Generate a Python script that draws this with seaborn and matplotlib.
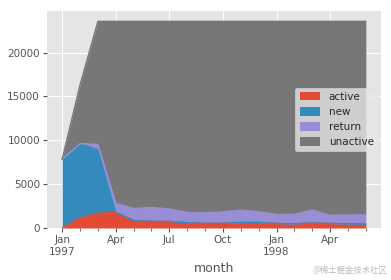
import matplotlib
matplotlib.use("Agg")
import matplotlib.pyplot as plt
import seaborn as sns
import numpy as np
import pandas as pd

months = ["1997-01", "1997-02", "1997-03", "1997-04", "1997-05", "1997-06",
          "1997-07", "1997-08", "1997-09", "1997-10", "1997-11", "1997-12",
          "1998-01", "1998-02", "1998-03", "1998-04", "1998-05", "1998-06"]
active = [0, 1157, 1681, 1773, 852, 747, 746, 604, 528, 532, 624, 632,
          512, 472, 571, 518, 459, 446]
new = [7846, 8476, 7248, 0, 0, 0, 0, 0, 0, 0, 0, 0, 0, 0, 0, 0, 0, 0]
ret = [0, 0, 595, 1049, 1362, 1592, 1434, 1168, 1211, 1307, 1404, 1232,
       1025, 1079, 1489, 919, 1029, 1060]
unactive = [0, 6689, 14046, 20748, 21356, 21231, 21390, 21798, 21831, 21731,
            21542, 21706, 22033, 22019, 21510, 22133, 22082, 22064]
series_names = ["active", "new", "return", "unactive"]
tick_labels = ["Jan\n1997", "Apr", "Jul", "Oct", "Jan\n1998", "Apr"]

colors = ["#E24A33", "#348ABD", "#988ED5", "#777777"]

sns.set_theme(style="darkgrid", rc={
    "axes.facecolor": "#E5E5E5",
    "grid.color": "white",
    "axes.edgecolor": "white",
    "xtick.color": "#555555",
    "ytick.color": "#555555",
    "axes.labelcolor": "#555555",
    "xtick.bottom": True,
    "ytick.left": True,
})
plt.rcParams["font.family"] = ["DejaVu Sans", "Noto Sans CJK SC"]

df = pd.DataFrame({"month": months, "active": active, "new": new,
                   "return": ret, "unactive": unactive})
x = np.arange(len(months))

fig = plt.figure(figsize=(3.91, 2.80), dpi=100)
ax = fig.add_axes([47/391, 1-228/280, (381-47)/391, (228-11)/280])

base = np.zeros(len(months))
for name, c in zip(series_names, colors):
    top = base + df[name].values
    ax.fill_between(x, base, top, color=c, linewidth=0, label=name)
    sns.lineplot(x=x, y=top, ax=ax, color=c, linewidth=1.0, legend=False)
    base = top

ax.set_ylim(0, 23570 * 1.05)
ax.set_xlim(-0.05 * 17, 17 * 1.05)
ax.set_xticks(np.arange(0, 18, 3))
ax.set_xticklabels(tick_labels)
ax.set_xticks(np.arange(18), minor=True)
ax.set_yticks([0, 5000, 10000, 15000, 20000])
ax.grid(True, which="major", color="white", linewidth=0.8)
ax.grid(False, which="minor")
ax.tick_params(axis="both", which="major", labelsize=7.5, length=3, width=0.8,
               color="#555555", pad=2)
ax.tick_params(axis="x", which="minor", length=2, width=0.6, color="#555555")
for s in ax.spines.values():
    s.set_visible(False)
ax.set_xlabel("month", fontsize=9, labelpad=4)
ax.set_ylabel("")

leg = ax.legend(loc="center right", fontsize=7.5, frameon=True,
                facecolor="#E5E5E5", edgecolor="#DDDDDD", framealpha=0.8,
                handlelength=2.0, handleheight=0.9, borderaxespad=0.3)
leg.get_frame().set_linewidth(0.5)

fig.text(0.99, 0.035, "@稀土掘金技术社区", ha="right", va="center",
         fontsize=6, color="#BBBBBB",
         family=["Noto Sans CJK SC", "DejaVu Sans"])

fig.savefig("out.png", dpi=100)
